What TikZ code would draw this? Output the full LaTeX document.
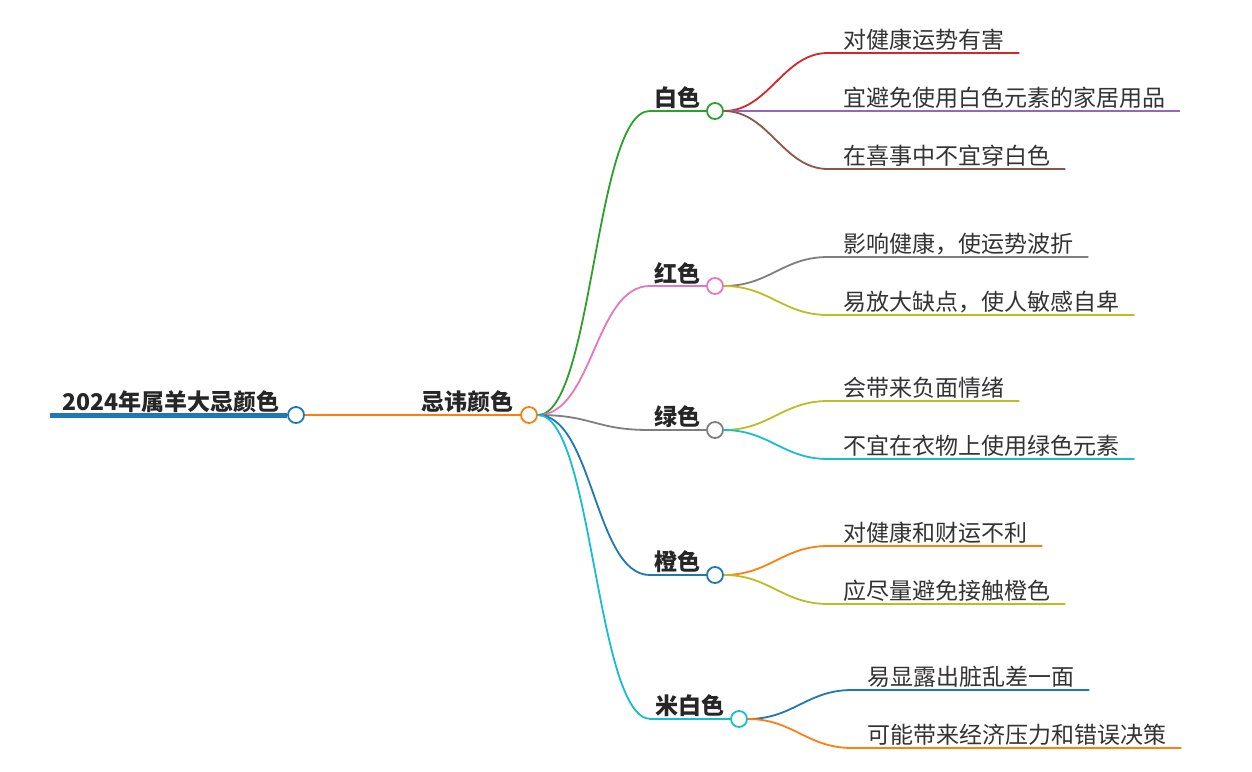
\documentclass[tikz,border=0pt]{standalone}
\usepackage{fontspec}
\setmainfont{Noto Sans CJK SC}
\usetikzlibrary{positioning}
\definecolor{mBlue}{HTML}{1F77B4}
\definecolor{mOrange}{HTML}{FF7F0E}
\definecolor{mGreen}{HTML}{2CA02C}
\definecolor{mRed}{HTML}{D62728}
\definecolor{mPurple}{HTML}{9467BD}
\definecolor{mBrown}{HTML}{8C564B}
\definecolor{mPink}{HTML}{E377C2}
\definecolor{mGrey}{HTML}{7F7F7F}
\definecolor{mOlive}{HTML}{BCBD22}
\definecolor{mCyan}{HTML}{17BECF}
\definecolor{mText}{HTML}{333333}

\begin{document}
\begin{tikzpicture}[x=1pt,y=-1pt,
		dot/.style={circle,draw=#1,line width=1.8pt,fill=white,minimum size=16pt,inner sep=0pt},
		branch/.style={draw=#1,line width=1.8pt},
		topic/.style={font=\fontsize{23}{28}\selectfont\bfseries,text=black!85,inner xsep=5pt,inner ysep=2pt,anchor=south east},
		leaf/.style={font=\fontsize{23}{28}\selectfont,text=mText,inner xsep=15pt,inner ysep=2pt,anchor=south west}]
		\fill[white] (0,0) rectangle (1252,771);
		\useasboundingbox (0,0) rectangle (1252,771);

		% root and middle topic
		\coordinate (start) at (50,415);
		\node[dot=mBlue] (rootdot) at (296,415) {};
		\node[topic,inner xsep=7pt] (root) at (rootdot.west) {2024年属羊大忌颜色};
		\node[dot=mOrange] (mdot) at (529,415) {};
		\node[topic,inner xsep=6pt] (mid) at (mdot.west) {忌讳颜色};
		\draw[mBlue,line width=5pt] (start) -- (rootdot);
		\draw[branch=mOrange] (rootdot) -- (mdot);

		% colours
		\node[dot=mGreen] (d1) at (715,111) {};
		\node[topic] (t1) at (d1.west) {白色};
		\node[dot=mPink] (d2) at (715,286) {};
		\node[topic] (t2) at (d2.west) {红色};
		\node[dot=mGrey] (d3) at (715,430) {};
		\node[topic] (t3) at (d3.west) {绿色};
		\node[dot=mBlue] (d4) at (715,575) {};
		\node[topic] (t4) at (d4.west) {橙色};
		\node[dot=mCyan] (d5) at (739,719) {};
		\node[topic] (t5) at (d5.west) {米白色};

		\draw[branch=mGreen] (mdot.east) .. controls +(55,0) and +(-55,0) .. (t1.south west) -- (d1);
		\draw[branch=mPink] (mdot.east) .. controls +(55,0) and +(-55,0) .. (t2.south west) -- (d2);
		\draw[branch=mGrey] (mdot.east) .. controls +(55,0) and +(-55,0) .. (t3.south west) -- (d3);
		\draw[branch=mBlue] (mdot.east) .. controls +(55,0) and +(-55,0) .. (t4.south west) -- (d4);
		\draw[branch=mCyan] (mdot.east) .. controls +(55,0) and +(-55,0) .. (t5.south west) -- (d5);

		% leaves
		\node[leaf] (l11) at (828,53) {对健康运势有害};
		\node[leaf] (l12) at (828,111) {宜避免使用白色元素的家居用品};
		\node[leaf] (l13) at (828,169) {在喜事中不宜穿白色};
		\node[leaf] (l21) at (828,257) {影响健康，使运势波折};
		\node[leaf] (l22) at (828,315) {易放大缺点，使人敏感自卑};
		\node[leaf] (l31) at (828,401) {会带来负面情绪};
		\node[leaf] (l32) at (828,459) {不宜在衣物上使用绿色元素};
		\node[leaf] (l41) at (828,546) {对健康和财运不利};
		\node[leaf] (l42) at (828,604) {应尽量避免接触橙色};
		\node[leaf] (l51) at (852,690) {易显露出脏乱差一面};
		\node[leaf] (l52) at (852,748) {可能带来经济压力和错误决策};

		\draw[branch=mRed] (d1.east) .. controls +(45,0) and +(-45,0) .. (l11.south west) -- (l11.south east);
		\draw[branch=mPurple] (d1.east) .. controls +(45,0) and +(-45,0) .. (l12.south west) -- (l12.south east);
		\draw[branch=mBrown] (d1.east) .. controls +(45,0) and +(-45,0) .. (l13.south west) -- (l13.south east);
		\draw[branch=mGrey] (d2.east) .. controls +(45,0) and +(-45,0) .. (l21.south west) -- (l21.south east);
		\draw[branch=mOlive] (d2.east) .. controls +(45,0) and +(-45,0) .. (l22.south west) -- (l22.south east);
		\draw[branch=mOlive] (d3.east) .. controls +(45,0) and +(-45,0) .. (l31.south west) -- (l31.south east);
		\draw[branch=mCyan] (d3.east) .. controls +(45,0) and +(-45,0) .. (l32.south west) -- (l32.south east);
		\draw[branch=mOrange] (d4.east) .. controls +(45,0) and +(-45,0) .. (l41.south west) -- (l41.south east);
		\draw[branch=mOlive] (d4.east) .. controls +(45,0) and +(-45,0) .. (l42.south west) -- (l42.south east);
		\draw[branch=mBlue] (d5.east) .. controls +(45,0) and +(-45,0) .. (l51.south west) -- (l51.south east);
		\draw[branch=mOrange] (d5.east) .. controls +(45,0) and +(-45,0) .. (l52.south west) -- (l52.south east);
		\end{tikzpicture}
\end{document}
